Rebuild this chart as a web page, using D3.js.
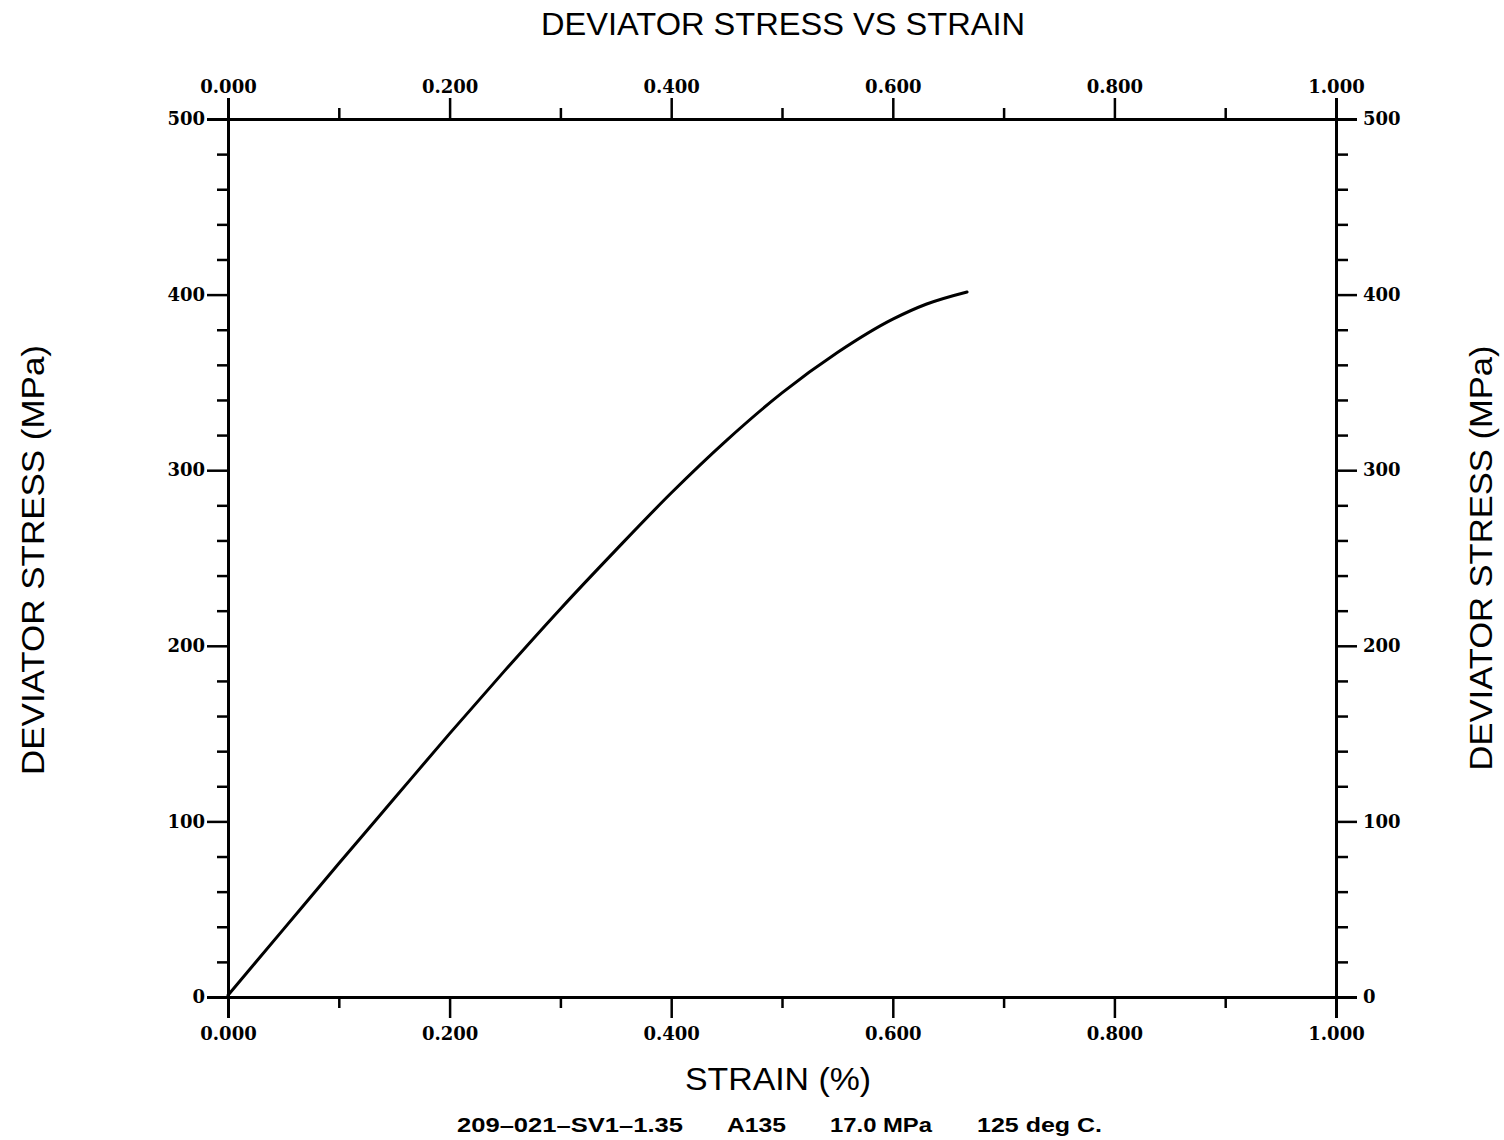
<!DOCTYPE html>
<html>
<head>
<meta charset="utf-8">
<script src="https://cdn.jsdelivr.net/npm/d3@7"></script>
<style>
  body { margin: 0; background: #fff; }
  .tick text { font-family: "DejaVu Serif", serif; font-weight: bold; font-size: 18px; fill: #000; }
  .lbl { font-family: "Liberation Sans", Arial, sans-serif; fill: #000; }
</style>
</head>
<body>
<svg id="chart" width="1504" height="1140"></svg>
<script>
// strain (%) vs deviator stress (MPa)
let strain = [0, 0.05, 0.10, 0.15, 0.20, 0.25, 0.30, 0.35, 0.40, 0.45, 0.50, 0.55, 0.60, 0.63, 0.667]
let stress = [1, 38.5, 76, 113, 150, 186, 221, 254.5, 287, 317, 344, 367, 386, 394.5, 401.5]

let xMajor = [0, 0.2, 0.4, 0.6, 0.8, 1.0]
let xMinor = [0.1, 0.3, 0.5, 0.7, 0.9]
let yMajor = [0, 100, 200, 300, 400, 500]
let yMinor = [20, 40, 60, 80, 120, 140, 160, 180, 220, 240, 260, 280, 320, 340, 360, 380, 420, 440, 460, 480]

let footer = ["209\u2013021\u2013SV1\u20131.35", "A135", "17.0 MPa", "125 deg C."]

const svg = d3.select('#chart')

const x = d3.scaleLinear().domain([0, 1]).range([228, 1336])
const y = d3.scaleLinear().domain([0, 500]).range([997, 119])

const fx = d3.format('.3f')

function styleAxis(g) {
    g.select('.domain').attr('stroke-width', 3).attr('stroke', '#000')
    g.selectAll('.tick line').attr('stroke-width', 2.5).attr('stroke', '#000')
}

// minor ticks first
svg.append('g').attr('transform', 'translate(0,997)')
    .call(d3.axisBottom(x).tickValues(xMinor).tickSize(11).tickFormat(''))
    .call(styleAxis)
svg.append('g').attr('transform', 'translate(0,119)')
    .call(d3.axisTop(x).tickValues(xMinor).tickSize(11).tickFormat(''))
    .call(styleAxis)
svg.append('g').attr('transform', 'translate(228,0)')
    .call(d3.axisLeft(y).tickValues(yMinor).tickSize(11).tickFormat(''))
    .call(styleAxis)
svg.append('g').attr('transform', 'translate(1336,0)')
    .call(d3.axisRight(y).tickValues(yMinor).tickSize(12).tickFormat(''))
    .call(styleAxis)

// major ticks with labels
svg.append('g').attr('transform', 'translate(0,997)')
    .call(d3.axisBottom(x).tickValues(xMajor).tickSize(21).tickPadding(9).tickFormat(fx))
    .call(styleAxis)
svg.append('g').attr('transform', 'translate(0,119)')
    .call(d3.axisTop(x).tickValues(xMajor).tickSize(21).tickPadding(5).tickFormat(fx))
    .call(styleAxis)
svg.append('g').attr('transform', 'translate(228,0)')
    .call(d3.axisLeft(y).tickValues(yMajor).tickSize(21).tickPadding(2).tickFormat(d3.format('d')))
    .call(styleAxis)
svg.append('g').attr('transform', 'translate(1336,0)')
    .call(d3.axisRight(y).tickValues(yMajor).tickSize(21).tickPadding(6).tickFormat(d3.format('d')))
    .call(styleAxis)

// curve
const pts = strain.map((s, i) => [s, stress[i]])
svg.append('path')
    .datum(pts)
    .attr('fill', 'none')
    .attr('stroke', '#000')
    .attr('stroke-width', 3)
    .attr('stroke-linecap', 'round')
    .attr('d', d3.line().x(d => x(d[0])).y(d => y(d[1])).curve(d3.curveMonotoneX))

// titles
svg.append('text').attr('class', 'lbl')
    .attr('x', 783).attr('y', 35).attr('text-anchor', 'middle')
    .attr('font-size', 31)
    .attr('textLength', 484).attr('lengthAdjust', 'spacingAndGlyphs')
    .text('DEVIATOR  STRESS  VS  STRAIN')

svg.append('text').attr('class', 'lbl')
    .attr('x', 778).attr('y', 1090).attr('text-anchor', 'middle')
    .attr('font-size', 31)
    .attr('textLength', 186).attr('lengthAdjust', 'spacingAndGlyphs')
    .text('STRAIN  (%)')

svg.append('text').attr('class', 'lbl')
    .attr('transform', 'translate(44,560) rotate(-90)')
    .attr('text-anchor', 'middle')
    .attr('font-size', 31)
    .attr('textLength', 430).attr('lengthAdjust', 'spacingAndGlyphs')
    .text('DEVIATOR  STRESS  (MPa)')

svg.append('text').attr('class', 'lbl')
    .attr('transform', 'translate(1492,558) rotate(-90)')
    .attr('text-anchor', 'middle')
    .attr('font-size', 31)
    .attr('textLength', 425).attr('lengthAdjust', 'spacingAndGlyphs')
    .text('DEVIATOR  STRESS  (MPa)')

// footer
const footX = [457, 727, 830, 977]
const footW = [226, 59, 102, 125]
svg.selectAll('.foot')
    .data(footer)
    .join('text')
    .attr('class', 'lbl foot')
    .attr('x', (d, i) => footX[i])
    .attr('y', 1132)
    .attr('font-size', 20)
    .attr('font-weight', 'bold')
    .attr('textLength', (d, i) => footW[i])
    .attr('lengthAdjust', 'spacingAndGlyphs')
    .text(d => d)
</script>
</body>
</html>
